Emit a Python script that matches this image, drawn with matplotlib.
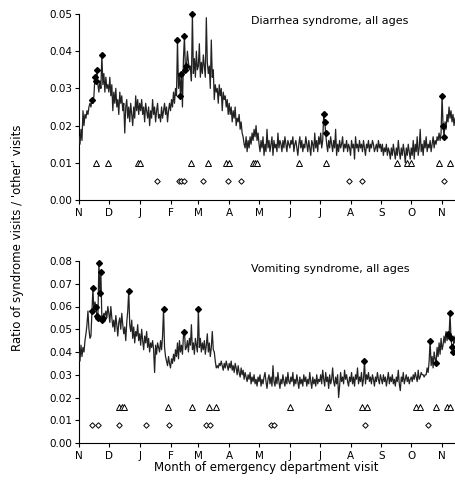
import numpy as np
import matplotlib
matplotlib.use("Agg")
import matplotlib.pyplot as plt

# month labels and day offsets of month starts (day 0 = Nov 1)
months = ["N", "D", "J", "F", "M", "A", "M", "J", "J", "A", "S", "O", "N"]
month_start = [0, 30, 61, 92, 120, 151, 181, 212, 242, 273, 304, 334, 365]

# daily ratio, diarrhea syndrome
diarrhea = [
    # Nov
    0.017, 0.015, 0.019, 0.016, 0.024, 0.020, 0.023, 0.022, 0.024, 0.023,
    0.025, 0.026, 0.025, 0.027, 0.026, 0.028, 0.033, 0.032, 0.035, 0.031,
    0.029, 0.032, 0.030, 0.039, 0.031, 0.034, 0.029, 0.033, 0.030, 0.031,
    # Dec
    0.029, 0.033, 0.028, 0.031, 0.024, 0.029, 0.026, 0.030, 0.025, 0.027,
    0.023, 0.029, 0.026, 0.028, 0.024, 0.026, 0.018, 0.025, 0.027, 0.022,
    0.025, 0.021, 0.026, 0.023, 0.020, 0.025, 0.022, 0.028, 0.024, 0.027, 0.023,
    # Jan
    0.026, 0.024, 0.027, 0.023, 0.025, 0.021, 0.026, 0.024, 0.022, 0.025,
    0.020, 0.024, 0.022, 0.027, 0.023, 0.025, 0.021, 0.024, 0.026, 0.022,
    0.023, 0.021, 0.025, 0.022, 0.024, 0.026, 0.023, 0.025, 0.021, 0.024, 0.026,
    # Feb
    0.024, 0.027, 0.025, 0.029, 0.026, 0.030, 0.028, 0.043, 0.030, 0.034,
    0.028, 0.034, 0.025, 0.038, 0.044, 0.035, 0.036, 0.040, 0.037, 0.035,
    0.036, 0.032, 0.050, 0.034, 0.038, 0.033, 0.040, 0.035,
    # Mar
    0.036, 0.042, 0.033, 0.037, 0.034, 0.039, 0.036, 0.033, 0.049, 0.037,
    0.034, 0.036, 0.030, 0.043, 0.033, 0.035, 0.027, 0.031, 0.029, 0.030,
    0.026, 0.031, 0.028, 0.030, 0.024, 0.029, 0.027, 0.028, 0.025, 0.027, 0.023,
    # Apr
    0.026, 0.023, 0.025, 0.021, 0.024, 0.022, 0.025, 0.020, 0.022, 0.021,
    0.023, 0.019, 0.021, 0.018, 0.017, 0.015, 0.014, 0.017, 0.013, 0.016,
    0.014, 0.017, 0.015, 0.018, 0.016, 0.019, 0.017, 0.020, 0.016, 0.018,
    # May
    0.015, 0.013, 0.016, 0.014, 0.017, 0.012, 0.015, 0.013, 0.019, 0.014,
    0.016, 0.013, 0.015, 0.017, 0.012, 0.016, 0.014, 0.015, 0.013, 0.018,
    0.014, 0.016, 0.015, 0.013, 0.016, 0.014, 0.017, 0.015, 0.013, 0.016, 0.015,
    # Jun
    0.014, 0.016, 0.015, 0.017, 0.013, 0.015, 0.016, 0.014, 0.012, 0.015,
    0.017, 0.014, 0.016, 0.013, 0.015, 0.014, 0.017, 0.015, 0.013, 0.016,
    0.014, 0.012, 0.016, 0.015, 0.013, 0.018, 0.014, 0.016, 0.013, 0.017,
    # Jul
    0.015, 0.018, 0.014, 0.016, 0.023, 0.021, 0.018, 0.015, 0.013, 0.016,
    0.014, 0.017, 0.015, 0.013, 0.016, 0.014, 0.019, 0.012, 0.015, 0.013,
    0.016, 0.014, 0.015, 0.017, 0.013, 0.015, 0.014, 0.016, 0.013, 0.015, 0.014,
    # Aug
    0.012, 0.016, 0.014, 0.015, 0.011, 0.017, 0.014, 0.015, 0.013, 0.016,
    0.014, 0.015, 0.013, 0.016, 0.014, 0.012, 0.015, 0.014, 0.016, 0.013,
    0.015, 0.014, 0.016, 0.015, 0.013, 0.014, 0.015, 0.013, 0.016, 0.014, 0.015,
    # Sep
    0.013, 0.015, 0.012, 0.014, 0.013, 0.015, 0.012, 0.014, 0.013, 0.011,
    0.014, 0.012, 0.015, 0.013, 0.011, 0.014, 0.012, 0.016, 0.013, 0.011,
    0.014, 0.012, 0.015, 0.013, 0.010, 0.014, 0.012, 0.015, 0.013, 0.011,
    # Oct
    0.014, 0.012, 0.016, 0.011, 0.015, 0.013, 0.017, 0.012, 0.014, 0.019,
    0.013, 0.015, 0.012, 0.016, 0.014, 0.017, 0.013, 0.015, 0.014, 0.016,
    0.013, 0.015, 0.017, 0.014, 0.016, 0.015, 0.017, 0.016, 0.018, 0.016, 0.018,
    # Nov (next year)
    0.028, 0.020, 0.017, 0.021, 0.019, 0.023, 0.021, 0.025, 0.022, 0.024,
    0.021, 0.023, 0.020, 0.022,
]
diarrhea_flags = [13, 16, 17, 18, 23, 99, 102, 103, 106, 107, 108, 114,
                  246, 247, 248, 365, 366, 367]
diarrhea_tri_days = [17, 29, 59, 61, 113, 130, 148, 151, 175, 177, 179,
                     221, 248, 320, 330, 334, 362, 373]
diarrhea_dia_days = [78, 101, 103, 106, 125, 150, 163, 271, 285, 367]

# daily ratio, vomiting syndrome
vomiting = [
    # Nov
    0.040, 0.036, 0.043, 0.038, 0.042, 0.040, 0.045, 0.048, 0.052, 0.058,
    0.050, 0.046, 0.047, 0.058, 0.068, 0.057, 0.062, 0.060, 0.056, 0.055,
    0.079, 0.066, 0.075, 0.054, 0.055, 0.057, 0.056, 0.058, 0.055, 0.060,
    # Dec
    0.057, 0.053, 0.060, 0.055, 0.051, 0.054, 0.049, 0.056, 0.052, 0.047,
    0.053, 0.055, 0.050, 0.057, 0.052, 0.048, 0.051, 0.045, 0.053, 0.058,
    0.067, 0.052, 0.049, 0.054, 0.046, 0.051, 0.044, 0.049, 0.047, 0.052, 0.045,
    # Jan
    0.048, 0.043, 0.050, 0.045, 0.041, 0.047, 0.044, 0.049, 0.042, 0.046,
    0.040, 0.044, 0.042, 0.045, 0.041, 0.031, 0.043, 0.039, 0.044, 0.042,
    0.040, 0.045, 0.041, 0.047, 0.059, 0.042, 0.038, 0.036, 0.034, 0.038, 0.035,
    # Feb
    0.033, 0.037, 0.035, 0.039, 0.036, 0.041, 0.038, 0.044, 0.037, 0.045,
    0.040, 0.043, 0.039, 0.047, 0.049, 0.041, 0.042, 0.045, 0.040, 0.046,
    0.043, 0.052, 0.041, 0.044, 0.039, 0.046, 0.043, 0.040,
    # Mar
    0.059, 0.042, 0.046, 0.040, 0.044, 0.041, 0.045, 0.039, 0.043, 0.048,
    0.040, 0.044, 0.038, 0.042, 0.049, 0.041, 0.040, 0.036, 0.033, 0.034,
    0.033, 0.035, 0.034, 0.036, 0.034, 0.032, 0.035, 0.033, 0.036, 0.034, 0.032,
    # Apr
    0.035, 0.033, 0.036, 0.032, 0.034, 0.031, 0.035, 0.033, 0.030, 0.034,
    0.031, 0.029, 0.033, 0.030, 0.032, 0.028, 0.031, 0.029, 0.027, 0.030,
    0.028, 0.031, 0.026, 0.029, 0.027, 0.030, 0.026, 0.028, 0.025, 0.029,
    # May
    0.027, 0.030, 0.025, 0.028, 0.026, 0.029, 0.031, 0.027, 0.024, 0.028,
    0.030, 0.026, 0.029, 0.025, 0.034, 0.027, 0.025, 0.029, 0.026, 0.031,
    0.027, 0.024, 0.028, 0.026, 0.030, 0.027, 0.025, 0.029, 0.026, 0.031, 0.027,
    # Jun
    0.026, 0.029, 0.027, 0.031, 0.025, 0.028, 0.026, 0.030, 0.027, 0.024,
    0.029, 0.026, 0.028, 0.025, 0.030, 0.027, 0.029, 0.025, 0.028, 0.026,
    0.031, 0.027, 0.024, 0.029, 0.026, 0.028, 0.025, 0.030, 0.026, 0.028,
    # Jul
    0.027, 0.030, 0.026, 0.032, 0.028, 0.025, 0.031, 0.027, 0.029, 0.024,
    0.030, 0.026, 0.028, 0.033, 0.027, 0.025, 0.029, 0.026, 0.030, 0.020,
    0.025, 0.031, 0.027, 0.029, 0.026, 0.032, 0.028, 0.030, 0.027, 0.025, 0.029,
    # Aug
    0.027, 0.031, 0.026, 0.029, 0.025, 0.030, 0.028, 0.033, 0.026, 0.029,
    0.027, 0.031, 0.025, 0.028, 0.036, 0.026, 0.030, 0.028, 0.031, 0.027,
    0.029, 0.026, 0.030, 0.028, 0.025, 0.029, 0.027, 0.031, 0.028, 0.026, 0.030,
    # Sep
    0.028, 0.026, 0.030, 0.027, 0.029, 0.025, 0.028, 0.031, 0.026, 0.029,
    0.027, 0.030, 0.026, 0.028, 0.025, 0.029, 0.027, 0.032, 0.026, 0.023,
    0.029, 0.027, 0.031, 0.026, 0.028, 0.030, 0.027, 0.029, 0.026, 0.028,
    # Oct
    0.029, 0.027, 0.030, 0.028, 0.031, 0.029, 0.027, 0.032, 0.028, 0.029,
    0.031, 0.030, 0.030, 0.029, 0.030, 0.030, 0.033, 0.031, 0.036, 0.045,
    0.034, 0.038, 0.033, 0.040, 0.037, 0.035, 0.042, 0.038, 0.044, 0.039, 0.046,
    # Nov (next year)
    0.041, 0.043, 0.047, 0.044, 0.049, 0.045, 0.048, 0.047, 0.057, 0.046,
    0.042, 0.040, 0.047, 0.044,
]
vomiting_flags = [13, 14, 17, 18, 19, 20, 21, 22, 23, 24, 50, 85, 106, 120,
                  287, 353, 359, 371, 373, 374, 375, 376]
vomiting_tri_days = [40, 43, 45, 89, 114, 131, 138, 212, 250, 285, 290,
                     339, 343, 359, 370, 373]
vomiting_dia_days = [13, 19, 40, 67, 90, 128, 132, 193, 196, 288, 351]

W, H = 455, 486
fig = plt.figure(figsize=(W / 100, H / 100), dpi=100)


def panel(rect, series, flags, tri_days, tri_y, dia_days, dia_y, ymax, title, title_y):
    ax = fig.add_axes(rect)
    days = np.arange(len(series))
    vals = np.array(series)
    ax.plot(days, vals, color="#222222", lw=0.9, zorder=3)
    ax.plot(np.array(flags), vals[flags], ls="none", marker="D", ms=3.0,
            mfc="black", mec="black", zorder=4, clip_on=False)
    ax.plot(tri_days, [tri_y] * len(tri_days), ls="none", marker="^", ms=4.2,
            mfc="white", mec="black", mew=0.7, zorder=4)
    ax.plot(dia_days, [dia_y] * len(dia_days), ls="none", marker="D", ms=2.8,
            mfc="white", mec="black", mew=0.7, zorder=4)
    ax.set_xlim(0, 378)
    ax.set_ylim(0, ymax)
    ax.set_yticks(np.arange(0, ymax + 0.001, 0.01))
    ax.set_yticklabels(["%.2f" % v for v in np.arange(0, ymax + 0.001, 0.01)])
    ax.set_xticks(month_start)
    ax.set_xticklabels(months)
    ax.tick_params(axis="both", labelsize=7.5, length=3, width=0.8, pad=2)
    ax.tick_params(axis="x", pad=3)
    for s in ("top", "right"):
        ax.spines[s].set_visible(False)
    for s in ("left", "bottom"):
        ax.spines[s].set_linewidth(0.8)
    fig.text(251 / W, 1 - title_y / H, title, fontsize=8, va="center", ha="left")
    return ax


panel([79 / W, 1 - 200 / H, (W - 79) / W, 186 / H], diarrhea, diarrhea_flags,
      diarrhea_tri_days, 0.010, diarrhea_dia_days, 0.005, 0.05,
      "Diarrhea syndrome, all ages", 21)
panel([79 / W, 1 - 443 / H, (W - 79) / W, 182 / H], vomiting, vomiting_flags,
      vomiting_tri_days, 0.016, vomiting_dia_days, 0.008, 0.08,
      "Vomiting syndrome, all ages", 269)

fig.text(18 / W, 1 - 238 / H, "Ratio of syndrome visits / 'other' visits",
         rotation=90, fontsize=8.5, ha="center", va="center")
fig.text(266 / W, 1 - 468 / H, "Month of emergency department visit",
         fontsize=8.5, ha="center", va="center")

fig.savefig("out.png", dpi=100)
